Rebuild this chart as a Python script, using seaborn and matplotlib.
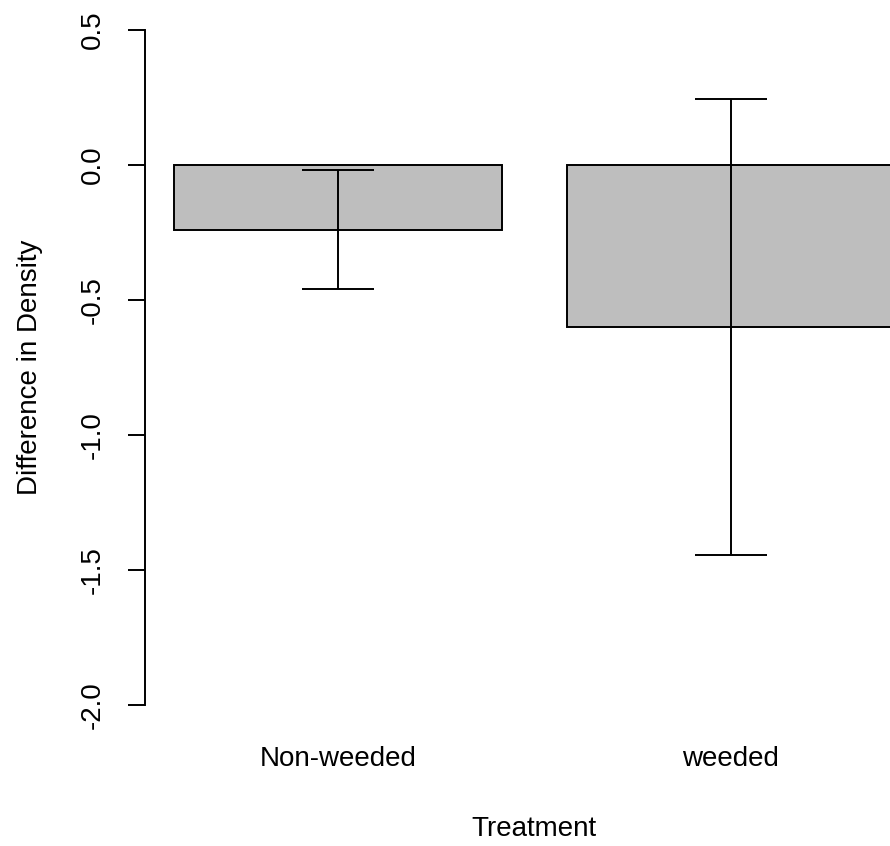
import numpy as np
import pandas as pd
import matplotlib
matplotlib.use("Agg")
import matplotlib.pyplot as plt
import seaborn as sns

# Values
treatments = ["Non-weeded", "weeded"]
mean_diff = [-0.24, -0.60]
err_size = [0.22, 0.845]

y_ticks = [0.5, 0.0, -0.5, -1.0, -1.5, -2.0]
y_tick_labels = ["0.5", "0.0", "-0.5", "-1.0", "-1.5", "-2.0"]

sns.set_style("white")
plt.rcParams['font.family'] = ['Liberation Sans', 'DejaVu Sans']
plt.rcParams.update({"text.color": "black", "axes.labelcolor": "black",
                     "xtick.color": "black", "ytick.color": "black"})

df = pd.DataFrame({"Treatment": treatments, "Difference": mean_diff, "SE": err_size})

fig = plt.figure(figsize=(8.9, 8.46), dpi=100)
# plot region runs past the right edge, like the original R device
ax = fig.add_axes([0.1624, 0.1352, 0.8751, 0.8614])

sns.barplot(data=df, x="Treatment", y="Difference", color="#bebebe", saturation=1,
            edgecolor="black", linewidth=1.4, width=1/1.2, errorbar=None, ax=ax)

# error bars
ax.errorbar(x=np.arange(len(df)), y=df["Difference"], yerr=df["SE"], fmt="none",
            ecolor="black", elinewidth=1.4, capsize=25.6, capthick=1.4)

ax.set_xlim(-0.4916, 1.490)
ax.set_ylim(-2.1, 0.6)

# axis styling (R base graphics look)
for side in ["top", "right", "bottom"]:
    ax.spines[side].set_visible(False)
ax.spines["left"].set_bounds(-2.0, 0.5)
ax.spines["left"].set_color("black")
ax.spines["left"].set_linewidth(1.4)

ax.set_yticks(y_ticks)
ax.set_yticklabels(y_tick_labels, rotation=90, va="center")
ax.tick_params(axis="y", length=12.2, width=1.4, pad=15.5, labelsize=20,
               direction="out", left=True, color="black", labelcolor="black")
ax.tick_params(axis="x", length=0, pad=10.6, labelsize=20, labelcolor="black")

ax.set_xlabel("Treatment", fontsize=20, labelpad=31.6, color="black")
ax.set_ylabel("Difference in Density", fontsize=20, labelpad=26.5, color="black")

fig.savefig("out.png", dpi=100)
